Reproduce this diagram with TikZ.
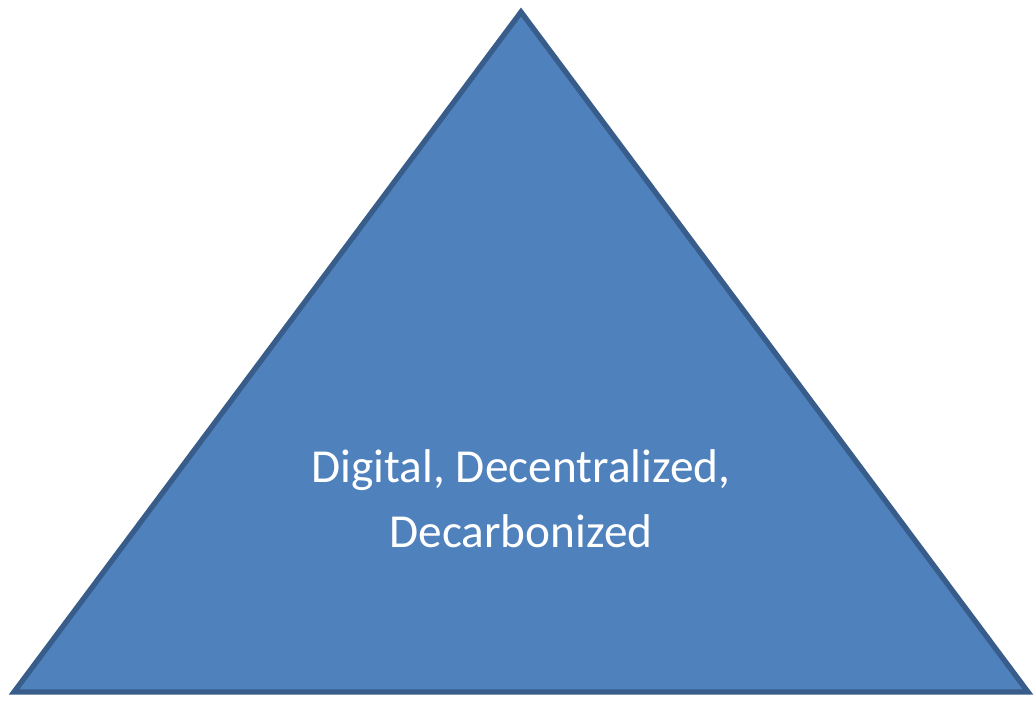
\documentclass[tikz,border=0pt]{standalone}
\usepackage{fontspec}
\setmainfont{Carlito}
\definecolor{pyrfill}{HTML}{4F81BD}
\definecolor{pyrline}{HTML}{385D8A}
\begin{document}
\begin{tikzpicture}[x=0.75pt,y=-0.75pt]
        \useasboundingbox (0,0) rectangle (1035,700);

        \coordinate (Top) at (521,12);
        \coordinate (Left) at (14,692);
        \coordinate (Right) at (1028,692);

        \draw[fill=pyrfill, draw=pyrline, line width=4pt, line join=miter] (Top) -- (Left) -- (Right) -- cycle;

        \node[text=white, align=center, font=\fontsize{35.5}{48.5}\selectfont] (Label) at (521,499) {Digital, Decentralized,\\Decarbonized};
    \end{tikzpicture}
\end{document}
